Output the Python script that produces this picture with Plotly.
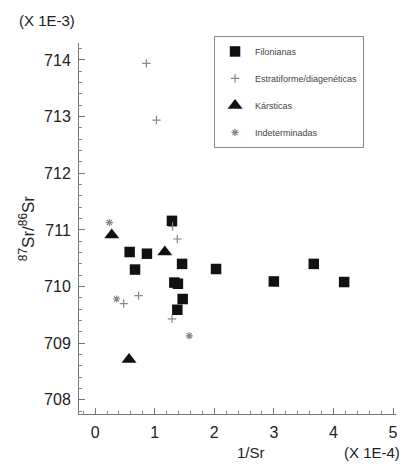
import plotly.graph_objects as go

# Data (1/Sr in units of 1E-4, 87Sr/86Sr in units of 1E-3)
fil_x = [0.58, 0.87, 0.67, 1.29, 1.46, 1.33, 1.39, 1.47, 1.38, 2.03, 3.00, 3.67, 4.18]
fil_y = [710.61, 710.58, 710.30, 711.16, 710.40, 710.07, 710.05, 709.78, 709.59, 710.31, 710.09, 710.40, 710.08]

est_x = [0.86, 1.03, 1.38, 0.48, 0.73, 1.29, 1.30]
est_y = [713.94, 712.94, 710.84, 709.70, 709.84, 709.43, 711.06]

kar_x = [0.28, 1.17, 0.57]
kar_y = [710.91, 710.61, 708.71]

ind_x = [0.24, 0.36, 1.58]
ind_y = [711.13, 709.78, 709.13]

series_names = ["Filonianas", "Estratiforme/diagenéticas", "Kársticas", "Indeterminadas"]
x_ticks = [0, 1, 2, 3, 4, 5]
y_ticks = [708, 709, 710, 711, 712, 713, 714]

FONT = "Liberation Sans, Arial, sans-serif"

fig = go.Figure()
fig.add_trace(go.Scatter(x=fil_x, y=fil_y, mode="markers", name=series_names[0], legendgroup="a",
                         marker=dict(symbol="square", size=10.5, color="#111111")))
fig.add_trace(go.Scatter(x=est_x, y=est_y, mode="markers", name=series_names[1], legendgroup="b",
                         marker=dict(symbol="cross-thin", size=6, color="#888888",
                                     line=dict(width=1.2, color="#888888"))))
fig.add_trace(go.Scatter(x=kar_x, y=kar_y, mode="markers", name=series_names[2], legendgroup="c",
                         marker=dict(symbol="triangle-up", size=13, color="#111111")))
fig.add_trace(go.Scatter(x=ind_x, y=ind_y, mode="markers", name=series_names[3], legendgroup="d",
                         marker=dict(symbol="asterisk", size=6, color="#888888",
                                     line=dict(width=1.2, color="#888888"))))

axis_common = dict(
    showgrid=False, zeroline=False, showline=True, linecolor="#777777", linewidth=1,
    ticks="inside", ticklen=6, tickcolor="#777777",
    tickfont=dict(family=FONT, size=16, color="#222222"),
    mirror=False,
)

fig.update_xaxes(range=[-0.27, 5.05], tickvals=x_ticks, ticklabelstandoff=4,
                 minor=dict(dtick=0.2, ticks="inside", ticklen=3, tickcolor="#888888"),
                 **axis_common)
fig.update_yaxes(range=[707.75, 714.3], tickvals=y_ticks, ticklabelstandoff=4,
                 minor=dict(dtick=0.2, ticks="inside", ticklen=3, tickcolor="#888888"),
                 **axis_common)

fig.update_layout(
    width=406, height=466,
    margin=dict(l=79, r=8, t=43, b=52),
    paper_bgcolor="white", plot_bgcolor="white",
    font=dict(family=FONT, color="#222222"),
    showlegend=True,
    legend=dict(x=0.426, y=1.019, xanchor="left", yanchor="top",
                bgcolor="white", bordercolor="#888888", borderwidth=1,
                font=dict(family=FONT, size=9, color="#444444"),
                itemsizing="trace", tracegroupgap=8,
                entrywidth=186),
    annotations=[
        dict(text="(X 1E-3)", xref="paper", yref="paper", x=-0.195, y=1.06,
             xanchor="left", yanchor="middle", showarrow=False,
             font=dict(family=FONT, size=15, color="#222222")),
        dict(text="1/Sr", xref="paper", yref="paper", x=0.542, y=-0.103,
             xanchor="center", yanchor="middle", showarrow=False,
             font=dict(family=FONT, size=15, color="#222222")),
        dict(text="(X 1E-4)", xref="paper", yref="paper", x=1.02, y=-0.103,
             xanchor="right", yanchor="middle", showarrow=False,
             font=dict(family=FONT, size=15, color="#222222")),
        dict(text="<sup>87</sup>Sr/<sup>86</sup>Sr", xref="paper", yref="paper",
             x=-0.165, y=0.5, xanchor="center", yanchor="middle", showarrow=False,
             textangle=-90, font=dict(family=FONT, size=17, color="#222222")),
    ],
)

fig.write_html("out.html", config={"displayModeBar": False})

# remove the browser's default body margin so the figure sits at the page corner
with open("out.html", "r", encoding="utf-8") as f:
    html = f.read()
html = html.replace("<head>", "<head><style>html,body{margin:0;padding:0;}</style>", 1)
with open("out.html", "w", encoding="utf-8") as f:
    f.write(html)
